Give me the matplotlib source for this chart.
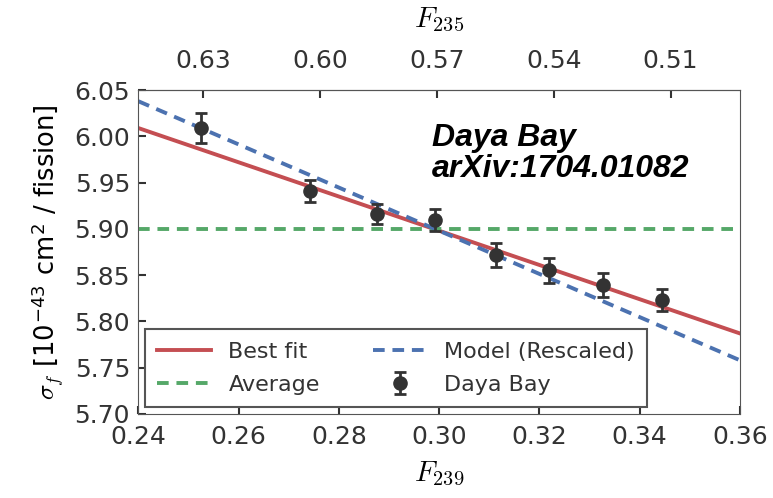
import numpy as np
import matplotlib
matplotlib.use("Agg")
import matplotlib.pyplot as plt

# Daya Bay measured points
f239 = [0.2525, 0.2743, 0.2877, 0.2992, 0.3113, 0.3219, 0.3327, 0.3445]
sigma = [6.009, 5.941, 5.916, 5.910, 5.872, 5.855, 5.839, 5.823]
sigma_err = [0.016, 0.012, 0.011, 0.012, 0.013, 0.013, 0.013, 0.012]

# straight lines (value at x = 0.24 and x = 0.36)
line_x = [0.24, 0.36]
best_fit = [6.009, 5.787]
model = [6.038, 5.758]
average = 5.90

xticks = [0.24, 0.26, 0.28, 0.30, 0.32, 0.34, 0.36]
yticks = [5.70, 5.75, 5.80, 5.85, 5.90, 5.95, 6.00, 6.05]
f235_ticks = [0.63, 0.60, 0.57, 0.54, 0.51]

red = "#C44E52"
blue = "#4C72B0"
green = "#55A868"
dark = "#333333"

plt.rcParams["font.family"] = "DejaVu Sans"
plt.rcParams["mathtext.fontset"] = "cm"
plt.rcParams["axes.edgecolor"] = "#555555"
plt.rcParams["text.color"] = dark
plt.rcParams["xtick.color"] = dark
plt.rcParams["ytick.color"] = dark

fig = plt.figure(figsize=(7.73, 4.98), dpi=100)
ax = fig.add_axes([0.179, 0.169, 0.778, 0.65])

ax.plot(line_x, best_fit, color=red, lw=2.8, label="Best fit")
ax.axhline(average, color=green, lw=2.8, ls=(0, (3, 2)), label="Average")
ax.plot(line_x, model, color=blue, lw=2.8, ls=(0, (3, 2)), label="Model (Rescaled)")
ax.errorbar(f239, sigma, yerr=sigma_err, fmt="o", color=dark, ms=9.5,
            elinewidth=2, capsize=4, capthick=2, label="Daya Bay")

ax.set_xlim(0.24, 0.36)
ax.set_ylim(5.70, 6.05)
ax.set_xticks(xticks)
ax.set_yticks(yticks)
ax.set_xticklabels(["%.2f" % v for v in xticks])
ax.set_yticklabels(["%.2f" % v for v in yticks])
ax.tick_params(axis="both", direction="in", length=6, width=1.5, labelsize=18, pad=8)
ax.tick_params(axis="y", pad=6)

ax.set_xlabel("$F_{239}$", fontsize=21, labelpad=8)
ax.set_ylabel(r"$\sigma_f$ [10$^{\mathregular{-43}}$ cm$^{\mathregular{2}}$ / fission]",
              fontsize=18.5, labelpad=6)


def to235(x):
    return 0.63 - (x - 0.2529) / 0.7775


def to239(f):
    return 0.2529 + (0.63 - f) * 0.7775


top = ax.secondary_xaxis("top", functions=(to235, to239))
top.set_xticks(f235_ticks)
top.set_xticklabels(["%.2f" % v for v in f235_ticks])
top.tick_params(direction="in", length=6, width=1.5, labelsize=18, pad=12, colors=dark)
top.set_xlabel("$F_{235}$", fontsize=21, labelpad=16)

ax.text(0.488, 0.90, "Daya Bay\narXiv:1704.01082", transform=ax.transAxes,
        fontsize=23, fontweight="bold", fontstyle="italic", family="Liberation Sans",
        color="black", va="top", ha="left", linespacing=1.05)

leg = ax.legend(ncol=2, loc="lower left", fontsize=16, frameon=True, fancybox=False,
                framealpha=1, edgecolor="#555555", borderaxespad=0.3,
                handlelength=2.4, columnspacing=2.4, labelspacing=0.6,
                borderpad=0.55)
leg.get_frame().set_linewidth(1.5)

fig.savefig("out.png", dpi=100)
